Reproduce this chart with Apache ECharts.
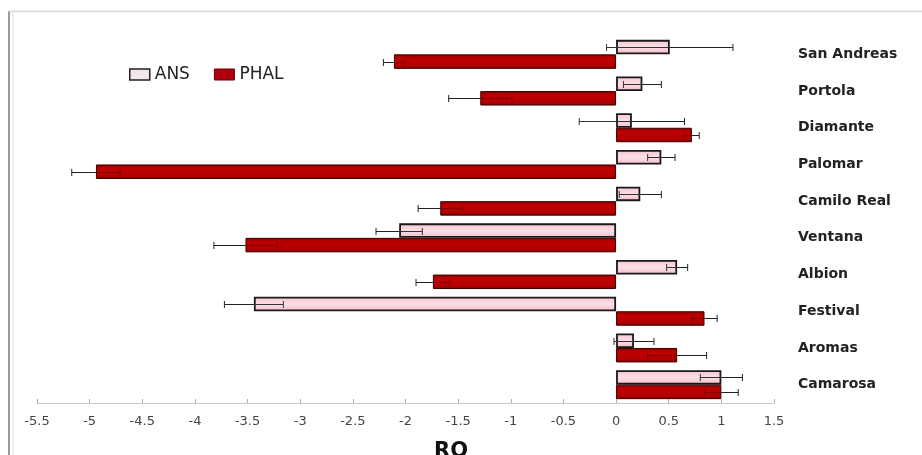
<!DOCTYPE html>
<html>
<head>
<meta charset="utf-8">
<script src="https://cdn.jsdelivr.net/npm/echarts@6/dist/echarts.min.js"></script>
<style>html,body{margin:0;padding:0;background:#fff;}#c{width:922px;height:455px;}</style>
</head>
<body>
<div id="c"></div>
<script>
var categories = ['San Andreas','Portola','Diamante','Palomar','Camilo Real','Ventana','Albion','Festival','Aromas','Camarosa'];
var ansValues = [0.51, 0.25, 0.15, 0.43, 0.23, -2.06, 0.58, -3.44, 0.17, 1.0];
var ansErrors = [0.6, 0.18, 0.5, 0.13, 0.2, 0.22, 0.1, 0.28, 0.19, 0.2];
var phalValues = [-2.11, -1.29, 0.72, -4.94, -1.67, -3.52, -1.74, 0.84, 0.58, 1.0];
var phalErrors = [0.1, 0.3, 0.07, 0.23, 0.21, 0.3, 0.16, 0.12, 0.28, 0.16];
var xTicks = {min: -5.5, max: 1.5, interval: 0.5};

var chart = echarts.init(document.getElementById('c'), null, {renderer: 'canvas'});
var GAP = 0.21;

function errSeries(name, vals, errs, sign, innerColor) {
  return {
    type: 'custom',
    name: name + '_err',
    z: 10,
    silent: true,
    data: vals.map(function (v, i) { return [v, i, errs[i]]; }),
    encode: {x: 0, y: 1},
    renderItem: function (params, api) {
      var v = api.value(0), idx = api.value(1), e = api.value(2);
      var band = api.size([0, 1])[1];
      var bw = band * (1 - GAP) / 2;
      var c = api.coord([v, idx]);
      var y = Math.round(c[1] + sign * bw / 2) + 0.5;
      var xv = c[0];
      var x1 = api.coord([v - e, idx])[0];
      var x2 = api.coord([v + e, idx])[0];
      var outer = v >= 0 ? x2 : x1;
      var inner = v >= 0 ? x1 : x2;
      var st = {stroke: '#222', lineWidth: 1};
      var sti = {stroke: innerColor, lineWidth: 1};
      return {
        type: 'group',
        children: [
          {type: 'line', shape: {x1: xv, y1: y, x2: outer, y2: y}, style: st},
          {type: 'line', shape: {x1: xv, y1: y, x2: inner, y2: y}, style: sti},
          {type: 'line', shape: {x1: outer, y1: y - 3.5, x2: outer, y2: y + 3.5}, style: st},
          {type: 'line', shape: {x1: inner, y1: y - 3.5, x2: inner, y2: y + 3.5}, style: sti}
        ]
      };
    }
  };
}

var option = {
  animation: false,
  backgroundColor: '#fff',
  grid: {left: 37, right: 148, top: 36, bottom: 52},
  legend: {
    show: true,
    left: 124, top: 61,
    icon: 'rect',
    itemWidth: 20, itemHeight: 11, itemGap: 24,
    data: [
      {name: 'ANS', itemStyle: {color: '#f3e6e9', borderColor: '#222', borderWidth: 1.5}},
      {name: 'PHAL', itemStyle: {color: '#b00010', borderColor: '#600', borderWidth: 1}}
    ],
    textStyle: {fontFamily: 'DejaVu Sans', fontSize: 17, color: '#222'}
  },
  xAxis: {
    type: 'value',
    min: xTicks.min, max: xTicks.max, interval: xTicks.interval,
    splitLine: {show: false},
    axisLine: {show: true, lineStyle: {color: '#c8c8c8', width: 1}},
    axisTick: {show: true, inside: true, length: 4, lineStyle: {color: '#aaa'}},
    axisLabel: {fontFamily: 'DejaVu Sans', fontSize: 13, color: '#444', margin: 12}
  },
  yAxis: {
    type: 'category',
    data: categories,
    inverse: true,
    position: 'right',
    axisLine: {show: false},
    axisTick: {show: false},
    splitLine: {show: false},
    axisLabel: {align: 'left', margin: 24, fontFamily: 'DejaVu Sans', fontWeight: 'bold', fontSize: 14, color: '#222'}
  },
  series: [
    {
      name: 'ANS', type: 'bar', data: ansValues,
      barGap: '0%', barCategoryGap: (GAP * 100) + '%',
      itemStyle: {
        color: new echarts.graphic.LinearGradient(0, 0, 0, 1, [
          {offset: 0, color: '#f5c3cf'}, {offset: 0.5, color: '#fbdfe5'}, {offset: 1, color: '#f2bccb'}
        ]),
        borderColor: '#1a1a1a', borderWidth: 1.8
      }
    },
    {
      name: 'PHAL', type: 'bar', data: phalValues,
      barGap: '0%', barCategoryGap: (GAP * 100) + '%',
      itemStyle: {
        color: new echarts.graphic.LinearGradient(0, 0, 0, 1, [
          {offset: 0, color: '#8e0000'}, {offset: 0.3, color: '#c00000'}, {offset: 0.8, color: '#b00000'}, {offset: 1, color: '#7a0000'}
        ]),
        borderColor: '#3a0000', borderWidth: 1
      }
    },
    errSeries('ANS', ansValues, ansErrors, -1, '#333'),
    errSeries('PHAL', phalValues, phalErrors, 1, 'rgba(80,0,0,0.5)')
  ],
  title: {
    text: 'RQ', left: 446, top: 436, textAlign: 'center',
    textStyle: {fontFamily: 'DejaVu Sans', fontWeight: 'bold', fontSize: 21, color: '#111'}
  },
  graphic: [
    {type: 'line', shape: {x1: 9, y1: 11, x2: 9, y2: 455}, style: {stroke: '#999', lineWidth: 2}, silent: true},
    {type: 'line', shape: {x1: 13, y1: 11, x2: 13, y2: 455}, style: {stroke: '#ddd', lineWidth: 1}, silent: true},
    {type: 'line', shape: {x1: 9, y1: 11.5, x2: 922, y2: 11.5}, style: {stroke: '#d8d8d8', lineWidth: 1.5}, silent: true}
  ]
};
chart.setOption(option);
</script>
</body>
</html>
